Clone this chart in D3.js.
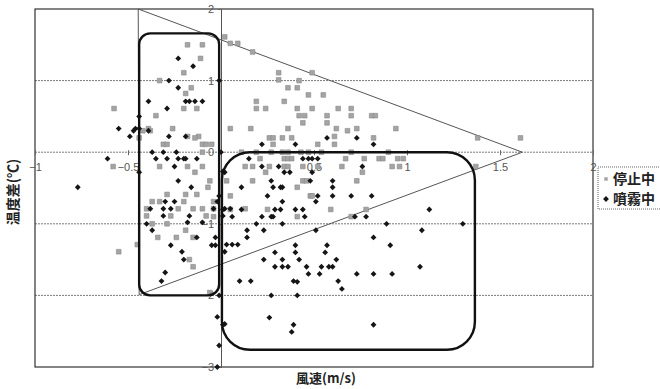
<!DOCTYPE html>
<html>
<head>
<meta charset="utf-8">
<script src="https://cdn.jsdelivr.net/npm/d3@7"></script>
<style>
  body { margin: 0; background: #fff; }
  svg { display: block; }
</style>
</head>
<body>
<svg id="chart" width="660" height="389"></svg>
<script>
// Wind speed (m/s) vs. temperature difference (°C), two operating states
const xTickValues = [-1, -0.5, 0.5, 1, 1.5, 2];
const yTickValues = [2, 1, 0, -1, -2, -3];
const gridValues = [1, 0, -1, -2];
const seriesNames = ["停止中", "噴霧中"];

// 停止中 (stopped)
const stopped = [
  [-0.18,1.50],[-0.10,1.50],[-0.11,1.31],[-0.20,1.11],[-0.33,1.00],[-0.16,0.90],[-0.19,0.82],
  [-0.575,0.61],[-0.20,0.61],[-0.13,0.61],[-0.35,0.51],[-0.26,0.33],[-0.39,0.33],[-0.42,0.30],
  [-0.18,0.22],[-0.12,0.22],[-0.31,0.11],[-0.29,0.11],[-0.05,0.11],[-0.38,0.30],[-0.44,0.20],
  [-0.14,0.20],[-0.10,0.11],[-0.08,0.11],[-0.10,0.0],[-0.58,-0.20],[-0.33,-0.20],[-0.18,-0.20],
  [-0.10,-0.20],[-0.14,-0.28],[-0.06,-0.40],[-0.07,-0.49],[-0.29,-0.59],[-0.19,-0.59],[-0.13,-0.59],
  [-0.37,-0.69],[-0.33,-0.69],[-0.20,-0.69],[-0.04,-0.69],[-0.40,-0.79],[-0.23,-0.79],[-0.15,-0.79],
  [-0.10,-0.79],[-0.04,-0.79],[-0.40,-0.89],[-0.27,-0.89],[-0.08,-0.89],[-0.04,-0.90],[-0.37,-1.00],
  [-0.29,-1.00],[-0.19,-1.09],[-0.34,-1.19],[-0.24,-1.19],[-0.15,-1.19],[-0.55,-1.39],[-0.45,-1.29],
  [-0.17,-1.50],[-0.15,-1.60],[-0.06,-1.96],
  [0.02,1.61],[0.05,1.52],[0.09,1.52],[0.17,1.40],[0.31,1.11],[0.31,1.01],[0.42,1.00],[0.49,1.11],
  [0.36,0.90],[0.41,0.90],[0.47,0.80],[0.55,0.80],[0.19,0.71],[0.34,0.71],[0.19,0.61],[0.24,0.61],
  [0.41,0.61],[0.49,0.61],[0.63,0.61],[0.70,0.61],[0.42,0.51],[0.45,0.51],[0.57,0.51],[0.70,0.51],
  [0.81,0.51],[0.83,0.51],[0.44,0.41],[0.57,0.41],[0.05,0.33],[0.16,0.33],[0.36,0.33],[0.62,0.33],
  [0.73,0.33],[0.94,0.33],[0.68,0.30],[1.38,0.20],[1.61,0.20],[0.61,0.22],[0.61,0.11],[0.26,0.20],
  [0.28,0.20],[0.33,0.20],[0.38,0.20],[0.82,0.20],[0.28,0.11],[0.52,0.11],
  [0.11,0],[0.19,0],[0.27,0],[0.33,0],[0.36,0],[0.43,0],[0.47,0],[0.54,0],[0.70,0],[0.90,0],
  [0.21,-0.09],[0.34,-0.09],[0.36,-0.09],[0.38,-0.09],[0.67,-0.09],[0.77,-0.09],[0.85,-0.09],
  [0.87,-0.09],[0.95,-0.09],[0.98,-0.09],
  [0.13,-0.20],[0.17,-0.20],[0.26,-0.20],[0.34,-0.20],[0.36,-0.20],[0.44,-0.20],[0.52,-0.20],
  [0.65,-0.20],[0.92,-0.20],[0.96,-0.20],[1.37,-0.20],
  [0.24,-0.28],[0.76,-0.28],[0.03,-0.40],[0.17,-0.40],[0.44,-0.40],[0.46,-0.40],[0.73,-0.40],
  [0.41,-0.49],[0.05,-0.61],[0.48,-0.61],[0.49,-0.61],[0.05,-0.80],[0.25,-0.80],[0.13,-0.79],
  [0.59,-0.80],[0.78,-0.80],[0.41,-0.90],[0.70,-0.90]
];

// 噴霧中 (spraying)
const spraying = [
  [-0.23,1.31],[-0.15,1.20],[-0.28,1.00],[-0.01,1.00],[-0.23,0.90],[-0.19,0.71],[-0.17,0.71],
  [-0.14,0.71],[-0.10,0.71],[-0.39,0.71],[-0.29,0.61],[-0.44,0.50],[-0.55,0.33],[-0.46,0.33],
  [-0.44,0.33],[-0.49,0.22],[-0.47,0.30],[-0.28,0.22],[-0.19,0.22],[-0.39,0.30],[-0.37,0.0],
  [-0.31,0.0],[-0.24,0.0],[-0.61,-0.09],[-0.35,-0.09],[-0.29,-0.09],[-0.23,-0.09],[-0.20,-0.09],
  [-0.19,-0.09],[-0.13,-0.09],[-0.25,-0.20],[-0.44,-0.28],[0.01,-0.27],[-0.23,-0.40],[-0.77,-0.49],
  [-0.16,-0.49],[-0.01,-0.61],[-0.30,-0.69],[-0.25,-0.69],[-0.02,-0.69],[-0.38,-0.79],[-0.31,-0.79],
  [-0.27,-0.79],[0.02,-0.79],[-0.31,-0.89],[-0.17,-0.89],[0.01,-0.89],[-0.18,-0.98],[-0.10,-0.98],
  [-0.40,-1.00],[-0.37,-1.09],[-0.13,-1.19],[-0.03,-1.19],[-0.27,-1.30],[-0.05,-1.30],[-0.03,-1.30],
  [0.02,-1.39],[-0.21,-1.39],[-0.20,-1.50],[-0.30,-1.68],[-0.32,-1.80],[-0.01,-2.00],[-0.02,-2.30],
  [0.01,-2.41],[-0.01,-2.70],[-0.02,-3.00],[-0.04,-0.79],
  [0.57,0.20],[0.73,0.20],[0.82,0.11],[0.22,0.11],[0.40,0.11],[0.0,0.0],
  [0.15,-0.09],[0.44,-0.09],[0.47,-0.09],[0.49,-0.09],[0.52,-0.09],
  [0.22,-0.20],[0.31,-0.20],[0.76,-0.20],
  [0.02,-0.28],[0.34,-0.28],[0.37,-0.28],[0.49,-0.28],
  [0.27,-0.40],[0.48,-0.40],[0.60,-0.40],
  [0.11,-0.49],[0.28,-0.49],[0.32,-0.49],[0.33,-0.49],[0.60,-0.49],
  [0.25,-0.61],[0.52,-0.61],[0.60,-0.61],[0.70,-0.61],[0.81,-0.61],
  [0.33,-0.69],[0.51,-0.69],
  [0.01,-0.80],[0.11,-0.80],[0.29,-0.80],[0.32,-0.80],[0.40,-0.80],[0.44,-0.80],[0.05,-0.79],
  [0.06,-0.90],[0.22,-0.90],[0.27,-0.90],[0.28,-0.90],[0.45,-0.90],[0.72,-0.90],[0.78,-0.90],
  [1.12,-0.80],
  [0.19,-1.00],[0.33,-1.00],[0.89,-1.00],[1.30,-1.00],
  [0.14,-1.09],[0.23,-1.09],[0.51,-1.09],[1.08,-1.09],
  [0.14,-1.19],[0.82,-1.19],
  [0.03,-1.29],[0.06,-1.29],[0.09,-1.29],[0.40,-1.30],[0.57,-1.30],[0.91,-1.30],
  [0.29,-1.40],[0.40,-1.40],[0.56,-1.40],
  [0.23,-1.50],[0.33,-1.50],[0.42,-1.50],[0.62,-1.50],
  [0.29,-1.60],[0.33,-1.60],[0.36,-1.60],[0.46,-1.60],[0.54,-1.60],[0.58,-1.60],[0.60,-1.60],
  [1.07,-1.60],
  [0.47,-1.70],[0.53,-1.70],[0.73,-1.70],[0.82,-1.70],[0.92,-1.70],
  [0.10,-1.80],[0.16,-1.80],[0.39,-1.80],[0.41,-1.81],[0.63,-1.80],
  [0.65,-1.91],[0.27,-2.00],[0.41,-2.00],
  [0.26,-2.31],[0.39,-2.41],[0.38,-2.51],[0.82,-2.41],[0.02,-2.40]
];

// Region outlines in data units
const triangle = [[-0.445, 2], [1.62, 0], [-0.44, -1.99]];
const regions = [
  { x0: -0.44, x1: -0.01, y0: 1.66, y1: -2.0 },
  { x0: 0.005, x1: 1.365, y0: 0, y1: -2.76 }
];
const regionRadii = [11, 28];

const svg = d3.select("#chart");
const margin = { left: 35, right: 67, top: 9, bottom: 22 };
const W = 660, H = 389;

const x = d3.scaleLinear().domain([-1, 2]).range([margin.left, W - margin.right]);
const y = d3.scaleLinear().domain([-3, 2]).range([H - margin.bottom, margin.top]);

const tickFont = "'Liberation Sans', Arial, sans-serif";
const cjkFont = "'Noto Sans CJK JP', 'Noto Sans CJK SC', sans-serif";

// Horizontal gridlines
svg.append("g")
  .selectAll("line")
  .data(gridValues)
  .join("line")
  .attr("x1", x(-1)).attr("x2", x(2))
  .attr("y1", d => y(d)).attr("y2", d => y(d))
  .attr("stroke", "#7a7a7a")
  .attr("stroke-width", 1)
  .attr("stroke-dasharray", "2,1");

// Plot frame
svg.append("rect")
  .attr("x", x(-1)).attr("y", y(2))
  .attr("width", x(2) - x(-1)).attr("height", y(-3) - y(2))
  .attr("fill", "none")
  .attr("stroke", "#333")
  .attr("stroke-width", 1.2);

// X axis through y = 0
const xAxis = svg.append("g")
  .attr("transform", `translate(0,${y(0)})`)
  .call(d3.axisBottom(x).tickValues(xTickValues).tickSize(3).tickPadding(8).tickFormat(d3.format("")));
xAxis.select(".domain").remove();
xAxis.selectAll(".tick line").attr("stroke", "#666").attr("y1", -2);
xAxis.selectAll("text")
  .attr("fill", "#555")
  .style("font-family", tickFont)
  .style("font-size", "11px");

// Y axis through x = 0
const yAxis = svg.append("g")
  .attr("transform", `translate(${x(0)},0)`)
  .call(d3.axisLeft(y).tickValues(yTickValues).tickSize(3).tickPadding(4).tickFormat(d3.format("")));
yAxis.select(".domain").attr("stroke", "#555").attr("stroke-width", 1);
yAxis.selectAll(".tick line").attr("stroke", "#666");
yAxis.selectAll("text")
  .attr("fill", "#555")
  .style("font-family", tickFont)
  .style("font-size", "11px");

// Triangle outline
svg.append("path")
  .attr("d", d3.line().x(d => x(d[0])).y(d => y(d[1]))(triangle) + "Z")
  .attr("fill", "none")
  .attr("stroke", "#555")
  .attr("stroke-width", 1);

// Markers
const squareSym = d3.symbol(d3.symbolSquare, 22);
const diamondSym = d3.symbol(d3.symbolSquare, 17);

svg.append("g")
  .selectAll("path")
  .data(stopped)
  .join("path")
  .attr("d", squareSym)
  .attr("transform", d => `translate(${x(d[0])},${y(d[1])})`)
  .attr("fill", "#a4a4a4")
  .attr("stroke", "#8a8a8a")
  .attr("stroke-width", 0.6);

svg.append("g")
  .selectAll("path")
  .data(spraying)
  .join("path")
  .attr("d", diamondSym)
  .attr("transform", d => `translate(${x(d[0])},${y(d[1])}) rotate(45)`)
  .attr("fill", "#151515");

// Rounded region boxes
svg.append("g")
  .selectAll("rect")
  .data(regions)
  .join("rect")
  .attr("x", d => x(d.x0))
  .attr("y", d => y(d.y0))
  .attr("width", d => x(d.x1) - x(d.x0))
  .attr("height", d => y(d.y1) - y(d.y0))
  .attr("rx", (d, i) => regionRadii[i])
  .attr("fill", "none")
  .attr("stroke", "#111")
  .attr("stroke-width", 2.4);

// Axis titles
svg.append("text")
  .attr("transform", `translate(18,${(y(2) + y(-3)) / 2 + 4}) rotate(-90)`)
  .attr("text-anchor", "middle")
  .style("font-family", cjkFont)
  .style("font-size", "14px")
  .style("font-weight", "bold")
  .attr("fill", "#222")
  .text("温度差(℃)");

svg.append("text")
  .attr("x", (x(-1) + x(2)) / 2 + 12)
  .attr("y", 383)
  .attr("text-anchor", "middle")
  .style("font-family", cjkFont)
  .style("font-size", "13px")
  .style("font-weight", "bold")
  .attr("fill", "#222")
  .text("風速(m/s)");

// Legend
const legend = svg.append("g").attr("transform", "translate(598,167)");
legend.append("rect")
  .attr("width", 70).attr("height", 42)
  .attr("fill", "#fff")
  .attr("stroke", "#666")
  .attr("stroke-dasharray", "1,1");

const legendItems = legend.selectAll("g.item")
  .data(seriesNames)
  .join("g")
  .attr("class", "item")
  .attr("transform", (d, i) => `translate(0,${12 + i * 20})`);

legendItems.append("path")
  .attr("d", (d, i) => i === 0 ? d3.symbol(d3.symbolSquare, 12)() : diamondSym())
  .attr("transform", (d, i) => i === 0 ? "translate(8,0)" : "translate(8,0) rotate(45)")
  .attr("fill", (d, i) => i === 0 ? "#a4a4a4" : "#151515");

legendItems.append("text")
  .attr("x", 15)
  .attr("y", 5)
  .style("font-family", cjkFont)
  .style("font-size", "14px")
  .style("font-weight", "bold")
  .attr("fill", "#222")
  .text(d => d);
</script>
</body>
</html>
